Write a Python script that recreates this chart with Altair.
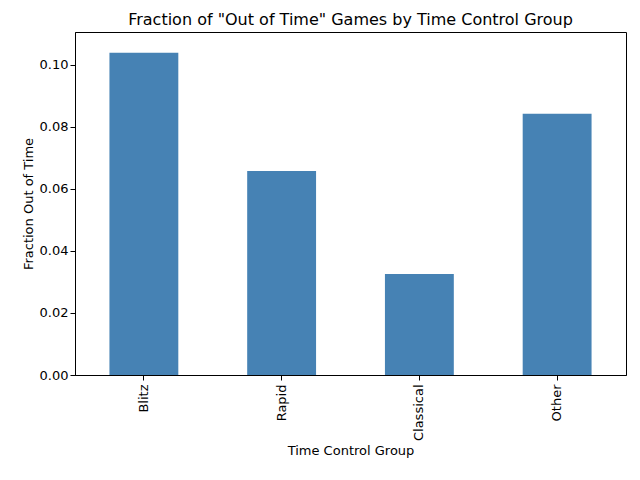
import pandas as pd
import altair as alt

groups = ["Blitz", "Rapid", "Classical", "Other"]
fractions = [0.1039, 0.0658, 0.0326, 0.0842]

df = pd.DataFrame({"group": groups, "fraction": fractions})

font = "DejaVu Sans"

chart = alt.Chart(df).mark_bar(color="#4682b4").encode(
    x=alt.X("group:N", sort=groups, title="Time Control Group",
            scale=alt.Scale(paddingInner=0.5, paddingOuter=0.25),
            axis=alt.Axis(labelAngle=-90, labelFontSize=13, titleFontSize=13,
                          titleFontWeight="normal", labelColor="black", titleColor="black",
                          domainColor="black", tickColor="black", labelPadding=4)),
    y=alt.Y("fraction:Q", title="Fraction Out of Time",
            scale=alt.Scale(domain=[0, 0.1106], nice=False),
            axis=alt.Axis(values=[0, 0.02, 0.04, 0.06, 0.08, 0.10], format=".2f",
                          grid=False, labelFontSize=13, titleFontSize=13,
                          titleFontWeight="normal", labelColor="black", titleColor="black",
                          domainColor="black", tickColor="black")),
).properties(
    width=551,
    height=343,
    title=alt.Title('Fraction of "Out of Time" Games by Time Control Group',
                    fontSize=16, fontWeight="normal", font=font, color="black"),
    autosize=alt.AutoSizeParams(type="none"),
    padding={"left": 67, "top": 24, "right": 6, "bottom": 100},
).configure_view(
    stroke="black", strokeWidth=1
).configure_axis(
    labelFont=font, titleFont=font
)

chart.save("out.html", embed_options={"renderer": "svg", "actions": False})
